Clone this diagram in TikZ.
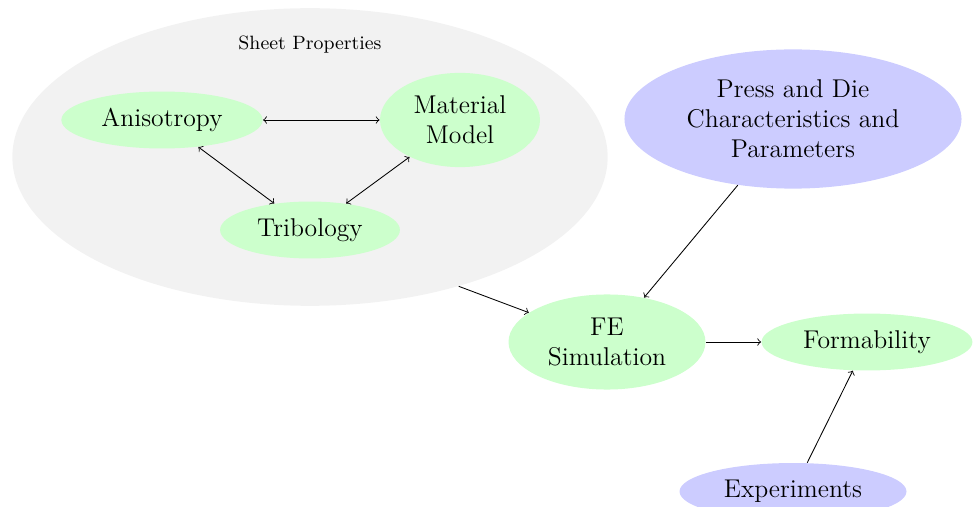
\documentclass[tikz,border=0pt]{standalone}
\usepackage{tikz}
\usetikzlibrary{shapes.geometric}
\usetikzlibrary{arrows}

\begin{document}
\begin{tikzpicture}[x=0.467pt,y=-0.467pt,>=to,
  blob/.style={ellipse,fill,inner sep=1pt,font=\large,align=center},
  prop/.style={blob,color=green!20,text=black},
  ext/.style={blob,color=blue!20,text=black}]

\useasboundingbox (0,0) rectangle (973,507);

\node[ellipse,fill=black!5,minimum width=278pt,minimum height=139pt] (sheet) at (310,157) {};
\node[font=\small] (sheettitle) at (310,45) {Sheet Properties};

\node[prop,minimum width=94pt,minimum height=26.6pt] (aniso) at (162,120) {Anisotropy};
\node[prop,minimum width=74.7pt,minimum height=44pt] (matmodel) at (460,120) {Material\\Model};
\node[prop,minimum width=84pt,minimum height=26.6pt] (tribo) at (310,230) {Tribology};

\node[ext,minimum width=157.4pt,minimum height=65pt] (press) at (793,119) {Press and Die\\Characteristics and\\Parameters};
\node[prop,minimum width=92pt,minimum height=44.4pt] (fesim) at (607,342) {FE\\Simulation};
\node[prop,minimum width=98.5pt,minimum height=26.6pt] (form) at (867,342) {Formability};
\node[ext,minimum width=106pt,minimum height=26.6pt] (exper) at (793,491.5) {Experiments};

\draw[<->] (aniso) -- (matmodel);
\draw[<->] (aniso) -- (tribo);
\draw[<->] (tribo) -- (matmodel);

\draw[->] (sheet.-41) -- (fesim);
\draw[->] (press) -- (fesim);
\draw[->] (fesim) -- (form);
\draw[->] (exper) -- (form);
\end{tikzpicture}
\end{document}
